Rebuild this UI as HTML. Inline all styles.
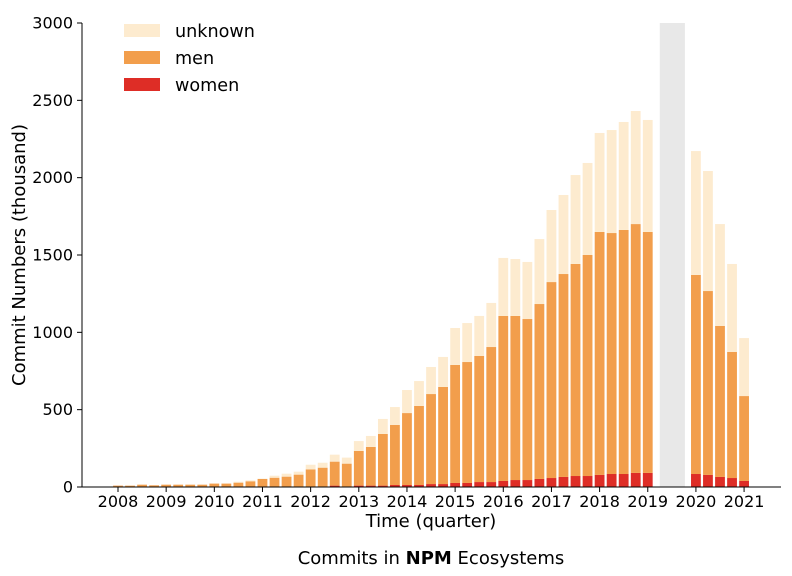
<!DOCTYPE html>
<html><head><meta charset="utf-8">
<style>
body{margin:0;background:#fff;}
svg{display:block;font-family:"DejaVu Sans","Liberation Sans",sans-serif;}
</style></head>
<body>
<svg id="chart" width="792" height="576" viewBox="0 0 792 576" xmlns="http://www.w3.org/2000/svg">
<rect id="gap" fill="#e8e8e8"/>
<g id="bars"></g>
<g id="axes"></g>
<g>
<rect x="124" y="24" width="36" height="13" fill="#fdebcf"/>
<text x="175" y="37" font-size="17.6" fill="#000">unknown</text>
<rect x="124" y="51" width="36" height="13" fill="#f29e4c"/>
<text x="175" y="64" font-size="17.6" fill="#000">men</text>
<rect x="124" y="78" width="36" height="13" fill="#de2d26"/>
<text x="175" y="91" font-size="17.6" fill="#000">women</text>
</g>
<text transform="translate(25,255) rotate(-90)" text-anchor="middle" font-size="18">Commit Numbers (thousand)</text>
<text x="431" y="527" text-anchor="middle" font-size="18">Time (quarter)</text>
<text x="431" y="564" text-anchor="middle" font-size="18">Commits in <tspan font-weight="bold">NPM</tspan> Ecosystems</text>
</svg>
<script>
const quarters = ["2008Q1","2008Q2","2008Q3","2008Q4","2009Q1","2009Q2","2009Q3","2009Q4","2010Q1","2010Q2","2010Q3","2010Q4","2011Q1","2011Q2","2011Q3","2011Q4","2012Q1","2012Q2","2012Q3","2012Q4","2013Q1","2013Q2","2013Q3","2013Q4","2014Q1","2014Q2","2014Q3","2014Q4","2015Q1","2015Q2","2015Q3","2015Q4","2016Q1","2016Q2","2016Q3","2016Q4","2017Q1","2017Q2","2017Q3","2017Q4","2018Q1","2018Q2","2018Q3","2018Q4","2019Q1","2020Q1","2020Q2","2020Q3","2020Q4","2021Q1"];
const women = [0,0,0,0,0,0,0,0,0,0,0,0,0,0,0,0,0,0,9,0,9,9,9,13,13,13,19,19,26,26,32,32,39,45,45,52,58,65,71,71,78,84,84,91,91,84,78,65,58,39];
const men = [9,9,15,11,15,15,15,15,22,22,28,37,52,60,67,80,114,125,155,151,224,250,334,388,465,511,582,628,763,782,815,873,1067,1061,1041,1131,1267,1312,1371,1429,1571,1558,1578,1609,1558,1287,1189,976,815,549];
const unknown = [0,1,0,0,0,0,0,0,0,0,6,6,2,13,19,19,30,32,45,39,64,71,97,116,149,161,175,194,239,252,259,285,375,368,369,420,466,511,575,595,640,666,698,731,724,801,776,659,569,375];
const yTicks = [0,500,1000,1500,2000,2500,3000];
const xTickYears = [2008,2009,2010,2011,2012,2013,2014,2015,2016,2017,2018,2019,2020,2021];
const gapRange = ["2019Q2","2019Q4"];

const NS = "http://www.w3.org/2000/svg";
const X0 = 118, STEP = 12.04, Y0 = 487, YSCALE = 464/3000, BW = 9.8;
function qIndex(q){ return (parseInt(q.slice(0,4))-2008)*4 + parseInt(q.slice(5))-1; }
function xq(q){ return X0 + STEP*qIndex(q); }
function y(v){ return Y0 - v*YSCALE; }
function mk(tag, attrs, parent){ const e=document.createElementNS(NS,tag); for(const k in attrs) e.setAttribute(k,attrs[k]); parent.appendChild(e); return e; }

const gap = document.getElementById('gap');
const gx1 = xq(gapRange[0]), gx2 = xq(gapRange[1]) + 1;
gap.setAttribute('x', gx1); gap.setAttribute('width', gx2-gx1);
gap.setAttribute('y', y(3000)); gap.setAttribute('height', Y0 - y(3000));

const bars = document.getElementById('bars');
const series = [[women,"#de2d26","women"],[men,"#f29e4c","men"],[unknown,"#fdebcf","unknown"]];
quarters.forEach((q,i)=>{
  let base = 0;
  series.forEach(([arr,col,nm])=>{
    const v = arr[i];
    if(v>0){
      const r = mk('rect',{x:xq(q)-BW/2, y:y(base+v), width:BW, height:y(base)-y(base+v), fill:col}, bars);
      
      
    }
    base += v;
  });
});

const axes = document.getElementById('axes');
const ly = mk('line',{x1:82,y1:y(3000),x2:82,y2:Y0,stroke:'#000','stroke-width':1}, axes);


const lx = mk('line',{x1:82,y1:Y0,x2:781,y2:Y0,stroke:'#000','stroke-width':1}, axes);


yTicks.forEach(t=>{
  const tk = mk('line',{x1:77,y1:y(t),x2:82,y2:y(t),stroke:'#000'}, axes);
  
  
  const tx = mk('text',{x:73,y:y(t)+5.5,'text-anchor':'end','font-size':16}, axes);
  tx.textContent = t;
  
  
});
xTickYears.forEach(yr=>{
  const xx = xq(yr+"Q1");
  const tk = mk('line',{x1:xx,y1:Y0,x2:xx,y2:Y0+5,stroke:'#000'}, axes);
  
  
  const tx = mk('text',{x:xx,y:Y0+20,'text-anchor':'middle','font-size':16}, axes);
  tx.textContent = yr;
  
  
});
</script>
</body></html>
